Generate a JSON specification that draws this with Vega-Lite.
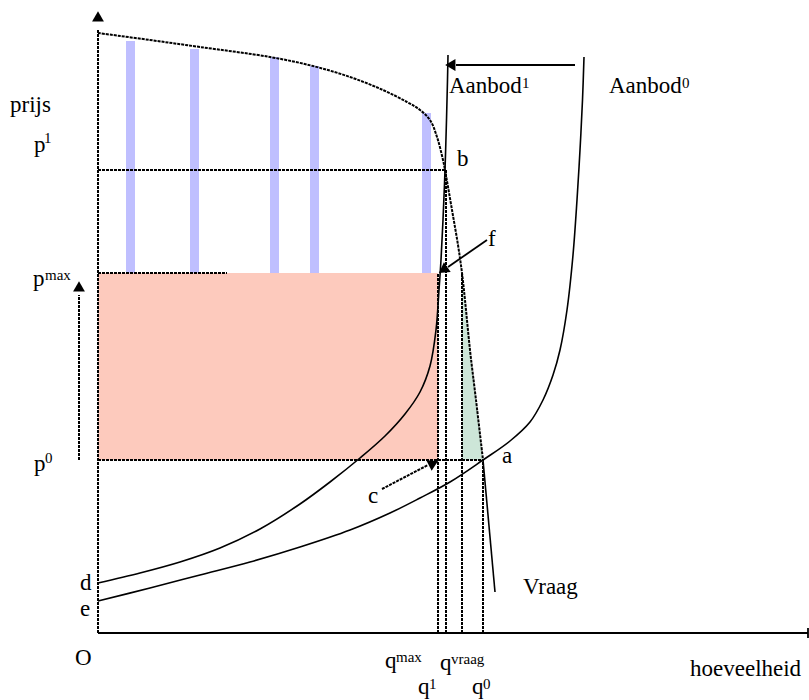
{
  "$schema": "https://vega.github.io/schema/vega-lite/v6.json",
  "width": 809,
  "height": 700,
  "autosize": {"type": "fit", "contains": "padding"},
  "padding": 0,
  "background": "white",
  "view": {"stroke": null},
  "datasets": {
    "curves": [
      {"curve": "Vraag", "q": 0, "p": 600},
      {"curve": "Vraag", "q": 52, "p": 593},
      {"curve": "Vraag", "q": 102, "p": 586},
      {"curve": "Vraag", "q": 172, "p": 576},
      {"curve": "Vraag", "q": 215, "p": 567},
      {"curve": "Vraag", "q": 252, "p": 556},
      {"curve": "Vraag", "q": 285, "p": 543},
      {"curve": "Vraag", "q": 309, "p": 531},
      {"curve": "Vraag", "q": 322, "p": 523},
      {"curve": "Vraag", "q": 332, "p": 513},
      {"curve": "Vraag", "q": 339, "p": 496},
      {"curve": "Vraag", "q": 345, "p": 473},
      {"curve": "Vraag", "q": 347, "p": 463},
      {"curve": "Vraag", "q": 354, "p": 423},
      {"curve": "Vraag", "q": 360, "p": 388},
      {"curve": "Vraag", "q": 364, "p": 360},
      {"curve": "Vraag", "q": 367, "p": 333},
      {"curve": "Vraag", "q": 372, "p": 283},
      {"curve": "Vraag", "q": 378, "p": 233},
      {"curve": "Vraag", "q": 385, "p": 173},
      {"curve": "VraagStaart", "q": 385, "p": 173},
      {"curve": "VraagStaart", "q": 397, "p": 41},
      {"curve": "Aanbod1", "q": 350, "p": 578},
      {"curve": "Aanbod1", "q": 349.5, "p": 553},
      {"curve": "Aanbod1", "q": 348.5, "p": 513},
      {"curve": "Aanbod1", "q": 347, "p": 463},
      {"curve": "Aanbod1", "q": 345, "p": 413},
      {"curve": "Aanbod1", "q": 343, "p": 373},
      {"curve": "Aanbod1", "q": 341, "p": 343},
      {"curve": "Aanbod1", "q": 338, "p": 303},
      {"curve": "Aanbod1", "q": 332, "p": 267},
      {"curve": "Aanbod1", "q": 322, "p": 241},
      {"curve": "Aanbod1", "q": 307, "p": 219},
      {"curve": "Aanbod1", "q": 287, "p": 197},
      {"curve": "Aanbod1", "q": 262, "p": 175},
      {"curve": "Aanbod1", "q": 232, "p": 151},
      {"curve": "Aanbod1", "q": 202, "p": 129},
      {"curve": "Aanbod1", "q": 162, "p": 104},
      {"curve": "Aanbod1", "q": 122, "p": 85},
      {"curve": "Aanbod1", "q": 82, "p": 71},
      {"curve": "Aanbod1", "q": 42, "p": 60},
      {"curve": "Aanbod1", "q": 0, "p": 50},
      {"curve": "Aanbod0", "q": 0, "p": 32},
      {"curve": "Aanbod0", "q": 52, "p": 45},
      {"curve": "Aanbod0", "q": 102, "p": 58},
      {"curve": "Aanbod0", "q": 152, "p": 71},
      {"curve": "Aanbod0", "q": 202, "p": 86},
      {"curve": "Aanbod0", "q": 252, "p": 103},
      {"curve": "Aanbod0", "q": 292, "p": 120},
      {"curve": "Aanbod0", "q": 322, "p": 135},
      {"curve": "Aanbod0", "q": 352, "p": 151},
      {"curve": "Aanbod0", "q": 385, "p": 173},
      {"curve": "Aanbod0", "q": 412, "p": 192},
      {"curve": "Aanbod0", "q": 432, "p": 211},
      {"curve": "Aanbod0", "q": 445, "p": 233},
      {"curve": "Aanbod0", "q": 455, "p": 258},
      {"curve": "Aanbod0", "q": 462, "p": 283},
      {"curve": "Aanbod0", "q": 469, "p": 323},
      {"curve": "Aanbod0", "q": 475, "p": 378},
      {"curve": "Aanbod0", "q": 479, "p": 433},
      {"curve": "Aanbod0", "q": 482, "p": 483},
      {"curve": "Aanbod0", "q": 484.5, "p": 533},
      {"curve": "Aanbod0", "q": 486, "p": 576}
    ],
    "dottedRules": [
      {"qa": 0, "pa": 0, "qb": 0, "pb": 603},
      {"qa": 0, "pa": 463, "qb": 347, "pb": 463},
      {"qa": 0, "pa": 360, "qb": 129, "pb": 360},
      {"qa": 0, "pa": 173, "qb": 385, "pb": 173},
      {"qa": 340, "pa": 0, "qb": 340, "pb": 360},
      {"qa": 348, "pa": 0, "qb": 348, "pb": 463},
      {"qa": 364, "pa": 0, "qb": 364, "pb": 360},
      {"qa": 385, "pa": 0, "qb": 385, "pb": 173},
      {"qa": -19, "pa": 173, "qb": -19, "pb": 338},
      {"qa": 284, "pa": 144, "qb": 330, "pb": 168}
    ],
    "solidRules": [
      {"qa": 0, "pa": 0, "qb": 710, "pb": 0},
      {"qa": 710, "pa": -5, "qb": 710, "pb": 5},
      {"qa": 477, "pa": 568, "qb": 358, "pb": 568},
      {"qa": 389, "pa": 393, "qb": 350, "pb": 366}
    ],
    "bars": [
      {"q": 32.5, "top": 592},
      {"q": 96.5, "top": 584},
      {"q": 176.5, "top": 576},
      {"q": 216.5, "top": 567},
      {"q": 328.5, "top": 520}
    ],
    "green": [
      {"p": 360, "q": 364},
      {"p": 333, "q": 367},
      {"p": 283, "q": 372},
      {"p": 233, "q": 378},
      {"p": 173, "q": 385}
    ],
    "labels": [
      {"q": -88, "p": 521, "t": "prijs"},
      {"q": -64, "p": 481, "t": "p"},
      {"q": -65, "p": 347, "t": "p"},
      {"q": -64, "p": 162, "t": "p"},
      {"q": -18, "p": 43, "t": "d"},
      {"q": -18, "p": 17, "t": "e"},
      {"q": -23, "p": -32, "t": "O"},
      {"q": 287, "p": -35, "t": "q"},
      {"q": 320, "p": -61, "t": "q"},
      {"q": 342, "p": -37, "t": "q"},
      {"q": 374, "p": -61, "t": "q"},
      {"q": 592, "p": -43, "t": "hoeveelheid"},
      {"q": 425, "p": 39, "t": "Vraag"},
      {"q": 404, "p": 170, "t": "a"},
      {"q": 359, "p": 467, "t": "b"},
      {"q": 390, "p": 387, "t": "f"},
      {"q": 270, "p": 130, "t": "c"},
      {"q": 351, "p": 540, "t": "Aanbod"},
      {"q": 511, "p": 540, "t": "Aanbod"}
    ],
    "sups": [
      {"q": -54, "p": 490, "t": "1"},
      {"q": -53, "p": 353, "t": "max"},
      {"q": -53, "p": 170, "t": "0"},
      {"q": 298, "p": -29, "t": "max"},
      {"q": 331, "p": -56, "t": "1"},
      {"q": 353, "p": -31, "t": "vraag"},
      {"q": 385, "p": -56, "t": "0"},
      {"q": 424, "p": 545, "t": "1"},
      {"q": 584, "p": 545, "t": "0"}
    ]
  },
  "layer": [
    {
      "data": {"values": [{"qa": 0, "qb": 340, "pa": 173, "pb": 360}]},
      "mark": {"type": "rect", "color": "#fdcabd"},
      "encoding": {
        "x": {"field": "qa", "type": "quantitative", "scale": {"domain": [-98, 711], "nice": false, "zero": false}, "axis": null},
        "x2": {"field": "qb"},
        "y": {"field": "pa", "type": "quantitative", "scale": {"domain": [-67, 633], "nice": false, "zero": false}, "axis": null},
        "y2": {"field": "pb"}
      }
    },
    {
      "data": {"name": "green"},
      "mark": {"type": "area", "orient": "horizontal", "color": "#cde6d8"},
      "encoding": {
        "y": {"field": "p", "type": "quantitative", "axis": null},
        "x": {"field": "q", "type": "quantitative", "axis": null},
        "x2": {"datum": 364}
      }
    },
    {
      "data": {"name": "bars"},
      "mark": {"type": "rule", "color": "#bfbfff", "strokeWidth": 9, "strokeCap": "butt"},
      "encoding": {
        "x": {"field": "q", "type": "quantitative", "axis": null},
        "y": {"field": "top", "type": "quantitative", "axis": null},
        "y2": {"datum": 360}
      }
    },
    {
      "data": {"name": "dottedRules"},
      "mark": {"type": "rule", "color": "black", "strokeWidth": 2, "strokeDash": [3, 1]},
      "encoding": {
        "x": {"field": "qa", "type": "quantitative", "axis": null},
        "x2": {"field": "qb"},
        "y": {"field": "pa", "type": "quantitative", "axis": null},
        "y2": {"field": "pb"}
      }
    },
    {
      "data": {"name": "curves"},
      "transform": [{"filter": "datum.curve === 'Vraag'"}],
      "mark": {"type": "line", "color": "black", "strokeWidth": 2, "strokeDash": [3, 1], "interpolate": "catmull-rom"},
      "encoding": {
        "x": {"field": "q", "type": "quantitative", "axis": null},
        "y": {"field": "p", "type": "quantitative", "axis": null},
        "detail": {"field": "curve"},
        "order": {"value": null}
      }
    },
    {
      "data": {"name": "curves"},
      "transform": [{"filter": "datum.curve !== 'Vraag'"}],
      "mark": {"type": "line", "color": "black", "strokeWidth": 1.6, "interpolate": "catmull-rom"},
      "encoding": {
        "x": {"field": "q", "type": "quantitative", "axis": null},
        "y": {"field": "p", "type": "quantitative", "axis": null},
        "detail": {"field": "curve"},
        "order": {"value": null}
      }
    },
    {
      "data": {"name": "solidRules"},
      "mark": {"type": "rule", "color": "black", "strokeWidth": 1.8},
      "encoding": {
        "x": {"field": "qa", "type": "quantitative", "axis": null},
        "x2": {"field": "qb"},
        "y": {"field": "pa", "type": "quantitative", "axis": null},
        "y2": {"field": "pb"}
      }
    },
    {
      "data": {"values": [{"q": 0, "p": 615}, {"q": -19, "p": 345}]},
      "mark": {"type": "point", "shape": "triangle", "filled": true, "color": "black", "opacity": 1, "size": 140, "angle": 0},
      "encoding": {
        "x": {"field": "q", "type": "quantitative", "axis": null},
        "y": {"field": "p", "type": "quantitative", "axis": null}
      }
    },
    {
      "data": {"values": [{"q": 354, "p": 568}]},
      "mark": {"type": "point", "shape": "triangle", "filled": true, "color": "black", "opacity": 1, "size": 140, "angle": 270},
      "encoding": {
        "x": {"field": "q", "type": "quantitative", "axis": null},
        "y": {"field": "p", "type": "quantitative", "axis": null}
      }
    },
    {
      "data": {"values": [{"q": 346.5, "p": 364}]},
      "mark": {"type": "point", "shape": "triangle", "filled": true, "color": "black", "opacity": 1, "size": 140, "angle": 235},
      "encoding": {
        "x": {"field": "q", "type": "quantitative", "axis": null},
        "y": {"field": "p", "type": "quantitative", "axis": null}
      }
    },
    {
      "data": {"values": [{"q": 334, "p": 169}]},
      "mark": {"type": "point", "shape": "triangle", "filled": true, "color": "black", "opacity": 1, "size": 140, "angle": 63},
      "encoding": {
        "x": {"field": "q", "type": "quantitative", "axis": null},
        "y": {"field": "p", "type": "quantitative", "axis": null}
      }
    },
    {
      "data": {"name": "labels"},
      "mark": {"type": "text", "font": "Liberation Serif", "fontSize": 23, "color": "black", "align": "left", "baseline": "alphabetic"},
      "encoding": {
        "x": {"field": "q", "type": "quantitative", "axis": null},
        "y": {"field": "p", "type": "quantitative", "axis": null},
        "text": {"field": "t"}
      }
    },
    {
      "data": {"name": "sups"},
      "mark": {"type": "text", "font": "Liberation Serif", "fontSize": 15, "color": "black", "align": "left", "baseline": "alphabetic"},
      "encoding": {
        "x": {"field": "q", "type": "quantitative", "axis": null},
        "y": {"field": "p", "type": "quantitative", "axis": null},
        "text": {"field": "t"}
      }
    }
  ]
}
